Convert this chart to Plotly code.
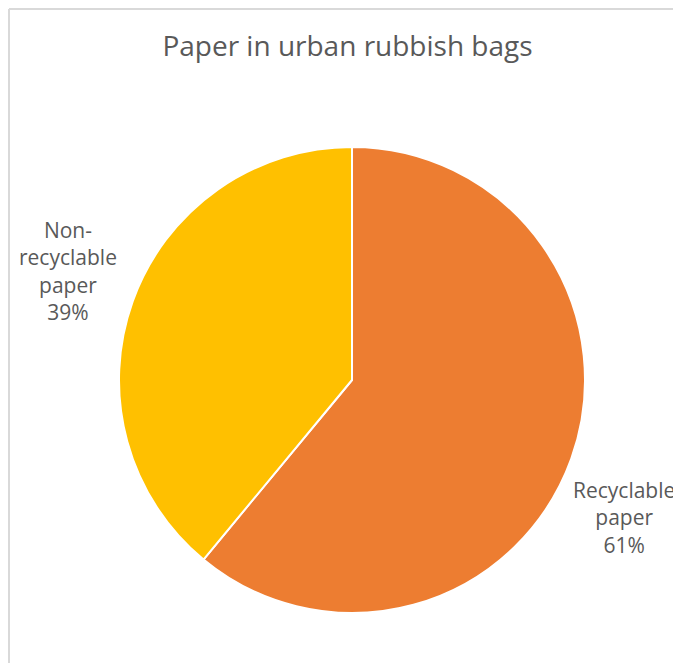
import plotly.graph_objects as go

# The page body has an 8px margin, so the figure sits at (8, 8) in the window.
OFF = 8
W, H = 681 - OFF, 671 - 2 * OFF

title = "Paper in urban rubbish bags"
categories = ["Recyclable paper", "Non-recyclable paper"]
category_lines = [["Recyclable", "paper"], ["Non-", "recyclable", "paper"]]
values = [61, 39]
colors = ["#ED7D31", "#FFC000"]


def px_x(x):
    return (x - OFF) / W


def px_y(y):
    return 1 - (y - OFF) / H


# pie geometry in window pixels
cx, cy, r = 352, 380, 233

fig = go.Figure()
fig.add_trace(go.Pie(
    labels=categories,
    values=values,
    sort=False,
    direction="clockwise",
    rotation=0,
    textinfo="none",
    hoverinfo="label+percent",
    marker=dict(colors=colors, line=dict(color="white", width=2)),
    showlegend=False,
    domain=dict(x=[px_x(cx - r), px_x(cx + r)], y=[px_y(cy + r), px_y(cy - r)]),
))

# data label positions (window pixel centers)
label_pos = [(624, 517), (68, 271)]
total = sum(values)
for lines, v, (lx, ly) in zip(category_lines, values, label_pos):
    txt = "<br>".join(lines + [f"{round(100 * v / total)}%"])
    fig.add_annotation(
        x=px_x(lx), y=px_y(ly), xref="paper", yref="paper",
        text=txt, showarrow=False, xanchor="center", yanchor="middle",
        align="center",
        font=dict(family="Open Sans", size=21, color="#595959"),
    )

# chart-area border (top and left visible)
border = "#D9D9D9"
fig.add_shape(type="line", xref="paper", yref="paper",
              x0=px_x(9), x1=1.05, y0=px_y(9), y1=px_y(9),
              line=dict(color=border, width=2))
fig.add_shape(type="line", xref="paper", yref="paper",
              x0=px_x(9), x1=px_x(9), y0=px_y(9), y1=-0.05,
              line=dict(color=border, width=2))

fig.update_layout(
    width=W, height=H,
    margin=dict(l=0, r=0, t=0, b=0),
    paper_bgcolor="white",
    plot_bgcolor="white",
    title=dict(text=title, x=px_x(347.5), xanchor="center", y=px_y(46), yanchor="middle",
               font=dict(family="Open Sans", size=28, color="#595959")),
)

fig.write_html("out.html")
